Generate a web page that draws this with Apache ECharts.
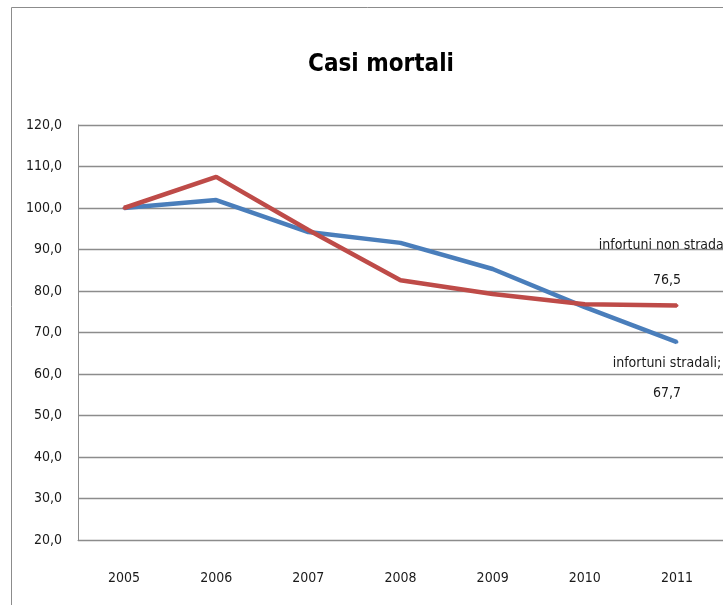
<!DOCTYPE html>
<html>
<head>
<meta charset="utf-8">
<script src="https://cdn.jsdelivr.net/npm/echarts@6/dist/echarts.min.js"></script>
<style>
  html, body { margin: 0; padding: 0; background: #fff; }
  #chart { width: 723px; height: 605px; }
</style>
</head>
<body>
<div id="chart"></div>
<script>
// anni
const years = ['2005', '2006', '2007', '2008', '2009', '2010', '2011'];
// indice casi mortali (2005 = 100)
const stradali = [100, 101.9, 94.2, 91.6, 85.3, 76.1, 67.7];
const nonStradali = [100, 107.5, 94.7, 82.6, 79.3, 76.8, 76.5];
// scala asse y
const yMin = 20;
const yMax = 120;
const yStep = 10;

const FONT = '"Liberation Sans Narrow", "DejaVu Sans Condensed", sans-serif';
const fmt = v => v.toFixed(1).replace('.', ',');

const chart = echarts.init(document.getElementById('chart'));

// etichetta solo sull'ultimo punto
const lastLabel = (name, data, pos, dist, lh) => data.map((v, i) => i === data.length - 1 ? {
  value: v,
  label: {
    show: true,
    position: pos,
    distance: dist,
    offset: [-10, 0],
    fontFamily: FONT,
    fontSize: 14,
    lineHeight: lh,
    color: '#1a1a1a',
    align: 'center',
    formatter: p => name + ';\n' + fmt(p.value)
  }
} : v);

chart.setOption({
  backgroundColor: '#fff',
  animation: false,
  title: {
    text: 'Casi mortali',
    left: 376,
    top: 48,
    textAlign: 'center',
    textStyle: { fontFamily: FONT, fontSize: 24, fontWeight: 'bold', color: '#000' }
  },
  graphic: [{
    type: 'rect',
    shape: { x: 11.5, y: 7.5, width: 800, height: 700 },
    style: { fill: 'none', stroke: '#8c8c8c', lineWidth: 1 },
    silent: true
  }],
  grid: { left: 78, right: 0, top: 125, bottom: 65 },
  xAxis: {
    type: 'category',
    data: years,
    boundaryGap: true,
    axisLine: { lineStyle: { color: '#8c8c8c', width: 1 } },
    axisTick: { show: false },
    axisLabel: { fontFamily: FONT, fontSize: 14, color: '#1a1a1a', margin: 31 }
  },
  yAxis: {
    type: 'value',
    min: yMin,
    max: yMax,
    interval: yStep,
    axisLine: { show: true, lineStyle: { color: '#8c8c8c', width: 1 } },
    axisTick: { show: false },
    splitLine: { lineStyle: { color: '#8c8c8c', width: 1.3 } },
    axisLabel: { fontFamily: FONT, fontSize: 14, color: '#1a1a1a', margin: 16, formatter: fmt }
  },
  series: [
    {
      name: 'infortuni stradali',
      type: 'line',
      data: lastLabel('infortuni stradali', stradali, 'bottom', 5, 30),
      symbol: 'circle',
      symbolSize: 3,
      showSymbol: true,
      lineStyle: { color: '#4a7ebb', width: 4.5 },
      itemStyle: { color: '#4a7ebb' },
      z: 2
    },
    {
      name: 'infortuni non stradali',
      type: 'line',
      data: lastLabel('infortuni non stradali', nonStradali, 'top', 6, 35),
      symbol: 'circle',
      symbolSize: 3,
      showSymbol: true,
      lineStyle: { color: '#be4b48', width: 4.5 },
      itemStyle: { color: '#be4b48' },
      z: 3
    }
  ]
});
</script>
</body>
</html>
